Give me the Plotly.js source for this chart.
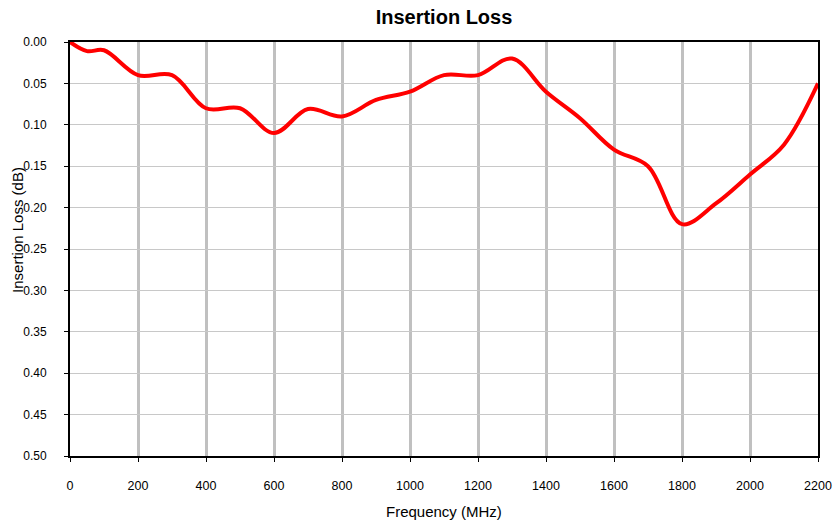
<!DOCTYPE html>
<html>
<head>
<meta charset="utf-8">
<script src="https://cdn.plot.ly/plotly-3.0.1.min.js"></script>
<style>html,body{margin:0;padding:0;background:#fff;}#chart{width:834px;height:523px;}</style>
</head>
<body>
<div id="chart"></div>
<script>
const frequency = [0, 50, 100, 200, 300, 400, 500, 600, 700, 800, 900, 1000, 1100, 1200, 1300, 1400, 1500, 1600, 1700, 1800, 1900, 2000, 2100, 2200];
const insertionLoss = [0.00, 0.011, 0.01, 0.04, 0.04, 0.08, 0.08, 0.11, 0.081, 0.09, 0.07, 0.06, 0.04, 0.04, 0.02, 0.06, 0.092, 0.13, 0.15, 0.22, 0.195, 0.16, 0.124, 0.05];
const xTicks = [0, 200, 400, 600, 800, 1000, 1200, 1400, 1600, 1800, 2000, 2200];
const yTicks = [0, 0.05, 0.1, 0.15, 0.2, 0.25, 0.3, 0.35, 0.4, 0.45, 0.5];

const font = 'Liberation Sans, Arial, sans-serif';
const trace = {
  x: frequency, y: insertionLoss, type: 'scatter', mode: 'lines',
  line: {color: '#ff0000', width: 4, shape: 'spline', smoothing: 1},
  hoverinfo: 'skip'
};
const layout = {
  width: 834, height: 523,
  margin: {l: 70, r: 16, t: 42, b: 67},
  paper_bgcolor: '#ffffff', plot_bgcolor: '#ffffff',
  showlegend: false,
  title: {text: '<b>Insertion Loss</b>', font: {family: font, size: 20, color: '#000'}, x: 0.5, xref: 'paper', xanchor: 'center', y: 0.9675, yref: 'container', yanchor: 'middle'},
  xaxis: {
    range: [0, 2200], tickvals: xTicks, ticktext: xTicks.map(String),
    showgrid: true, gridcolor: '#c0c0c0', gridwidth: 3,
    showline: true, linecolor: '#000', linewidth: 2, mirror: true,
    ticks: 'outside', ticklen: 4, tickcolor: '#000', tickwidth: 1,
    tickfont: {family: font, size: 12.5, color: '#000'},
    ticklabelstandoff: 13,
    zeroline: false
  },
  yaxis: {
    range: [0.5, 0], autorange: false, tickvals: yTicks, ticktext: yTicks.map(v => v.toFixed(2)),
    showgrid: true, gridcolor: '#c8c8c8', gridwidth: 1,
    showline: true, linecolor: '#000', linewidth: 2, mirror: true,
    ticks: 'outside', ticklen: 4, tickcolor: '#000', tickwidth: 1,
    tickfont: {family: font, size: 12, color: '#000'},
    ticklabelstandoff: 15,
    zeroline: false
  },
  annotations: [{
    text: 'Insertion Loss (dB)', textangle: -90, showarrow: false,
    xref: 'paper', yref: 'paper', x: -0.0695, y: 0.546, xanchor: 'center', yanchor: 'middle',
    font: {family: font, size: 15, color: '#000'}
  }, {
    text: 'Frequency (MHz)', showarrow: false,
    xref: 'paper', yref: 'paper', x: 0.5, y: -0.1329, xanchor: 'center', yanchor: 'middle',
    font: {family: font, size: 15, color: '#000'}
  }]
};
Plotly.newPlot('chart', [trace], layout, {displayModeBar: false, staticPlot: true});
</script>
</body>
</html>
